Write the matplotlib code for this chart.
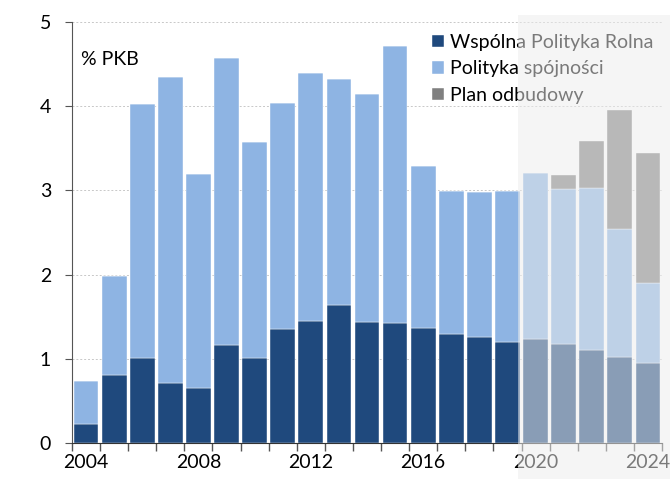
import numpy as np
import matplotlib
matplotlib.use("Agg")
from matplotlib import pyplot as plt
from matplotlib.patches import Rectangle

# dane (% PKB)
years = list(range(2004, 2025))
wpr = [0.22, 0.81, 1.01, 0.71, 0.65, 1.16, 1.01, 1.35, 1.45, 1.635, 1.44,
       1.43, 1.36, 1.30, 1.255, 1.195, 1.24, 1.18, 1.11, 1.02, 0.95]
spojnosc = [0.52, 1.17, 3.02, 3.64, 2.54, 3.41, 2.57, 2.69, 2.94, 2.69, 2.70,
            3.28, 1.93, 1.69, 1.725, 1.795, 1.97, 1.84, 1.92, 1.52, 0.95]
odbudowa = [0, 0, 0, 0, 0, 0, 0, 0, 0, 0, 0,
            0, 0, 0, 0, 0, 0, 0.16, 0.56, 1.41, 1.55]
labels = ["Wspólna Polityka Rolna", "Polityka spójności", "Plan odbudowy"]
xlabels = [2004, 2008, 2012, 2016, 2020, 2024]

c_wpr = "#1f497d"
c_sp = "#8eb4e3"
c_pl = "#808080"

plt.rcParams['font.family'] = ['Lato', 'DejaVu Sans']

fig = plt.figure(figsize=(6.7, 4.79), dpi=100)
ax = fig.add_axes([72/670, 36/479, (662-72)/670, (443-22)/479])

x = np.array(years)
w = 0.88
ax.bar(x, wpr, w, color=c_wpr, edgecolor="white", linewidth=0.3, label=labels[0], zorder=2)
ax.bar(x, spojnosc, w, bottom=wpr, color=c_sp, edgecolor="white", linewidth=0.3, label=labels[1], zorder=2)
bot = np.array(wpr) + np.array(spojnosc)
ax.bar(x, odbudowa, w, bottom=bot, color=c_pl, edgecolor="white", linewidth=0.3, label=labels[2], zorder=2)

ax.set_xlim(2003.5, 2024.5)
ax.set_ylim(0, 5)
ax.set_yticks(range(6))
ax.yaxis.grid(True, linestyle=(0, (2, 2)), color="#c8c8c8", linewidth=0.7, zorder=0)
ax.set_axisbelow(True)

ax.set_xticks(xlabels)
ax.set_xticklabels([str(v) for v in xlabels])
ax.set_xticks(np.arange(2003.5, 2025, 1), minor=True)
ax.tick_params(axis="x", which="major", length=0, pad=8, labelsize=14)
ax.tick_params(axis="x", which="minor", length=6, color="#555555", width=1)
ax.tick_params(axis="y", length=5, color="#555555", labelsize=14, pad=10)

for s in ["top", "right"]:
    ax.spines[s].set_visible(False)
ax.spines["left"].set_color("#555555")
ax.spines["bottom"].set_color("#333333")

ax.text(0.015, 0.93, "% PKB", transform=ax.transAxes, fontsize=14, va="top")

leg = ax.legend(loc="upper right", bbox_to_anchor=(1.005, 1.0), frameon=False,
                fontsize=14, handlelength=0.6, handleheight=0.6, handletextpad=0.3,
                labelspacing=0.5, borderaxespad=0.2)

# zakres prognozy - półprzezroczysta nakładka
fig.patches.append(Rectangle((518/670, 0), 1 - 518/670, (479-15)/479,
                             transform=fig.transFigure, facecolor="#ececec",
                             alpha=0.52, edgecolor="none", zorder=10))

fig.savefig("out.png", dpi=100)
